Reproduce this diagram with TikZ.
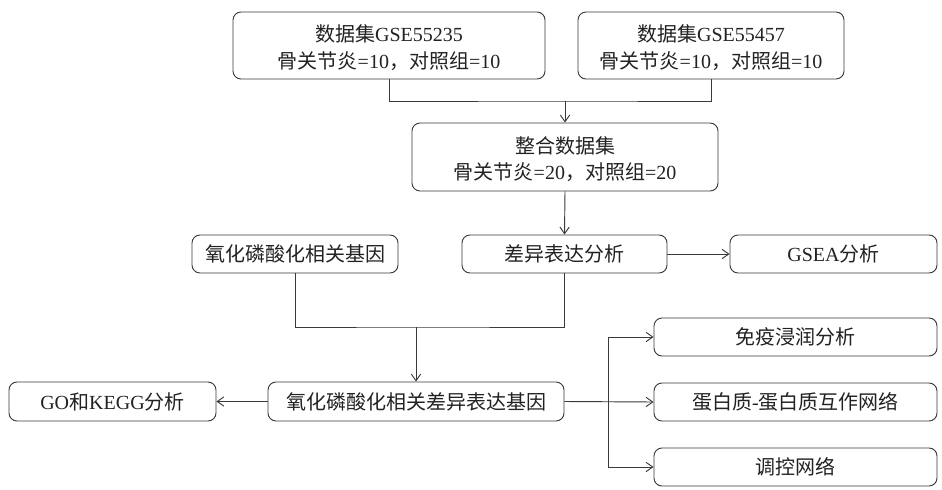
\documentclass[tikz,border=0pt]{standalone}
\usepackage{fontspec}
\setmainfont{Liberation Serif}
\newfontfamily\cjk{Noto Sans CJK SC}
\usetikzlibrary{arrows.meta}
\definecolor{ln}{HTML}{3A3A3A}
\definecolor{tx}{HTML}{222222}
\begin{document}
\begin{tikzpicture}[x=0.75pt,y=-0.75pt,
  box/.style={draw=ln,line width=0.7pt,rounded corners=6pt,align=center,
    inner sep=0pt,text=tx,font=\fontsize{15}{18}\selectfont,minimum height=28.5pt},
  lbl/.style={inner sep=0pt,text=tx,font=\fontsize{15}{18}\selectfont},
  conn/.style={draw=ln,line width=0.7pt},
  arr/.style={conn,-{Straight Barb[length=5pt,width=7pt]}}]
\useasboundingbox (0,0) rectangle (942,489);
\fill[white] (0,0) rectangle (942,489);
\node[box,minimum width=234pt,minimum height=50.25pt] (d1) at (389,45.5) {};
\node[lbl] (d1a) at (389,34) {{\cjk 数据集}GSE55235};
\node[lbl] (d1b) at (389,61) {{\cjk 骨关节炎}=10{\cjk ，对照组}=10};
\node[box,minimum width=199.5pt,minimum height=50.25pt] (d2) at (711,45.5) {};
\node[lbl] (d2a) at (711,34) {{\cjk 数据集}GSE55457};
\node[lbl] (d2b) at (711,61) {{\cjk 骨关节炎}=10{\cjk ，对照组}=10};
\node[box,minimum width=229.5pt,minimum height=51pt] (m) at (565,157) {};
\node[lbl] (ma) at (565,146) {\cjk 整合数据集};
\node[lbl] (mb) at (565,172) {{\cjk 骨关节炎}=20{\cjk ，对照组}=20};
\node[box,minimum width=153.75pt] (deg) at (564.5,254) {\cjk 差异表达分析};
\node[box,minimum width=154.5pt] (ox) at (295,254) {\cjk 氧化磷酸化相关基因};
\node[box,minimum width=155.25pt] (gsea) at (833.5,254) {GSEA{\cjk 分析}};
\node[box,minimum width=222pt,minimum height=29.25pt] (odeg) at (416,401.5) {\cjk 氧化磷酸化相关差异表达基因};
\node[box,minimum width=155.25pt,minimum height=29.25pt] (go) at (112.5,401.5) {GO{\cjk 和}KEGG{\cjk 分析}};
\node[box,minimum width=212.25pt] (imm) at (795.5,337) {\cjk 免疫浸润分析};
\node[box,minimum width=212.25pt] (ppi) at (795.5,402) {{\cjk 蛋白质}-{\cjk 蛋白质互作网络}};
\node[box,minimum width=212.25pt] (reg) at (795.5,467) {\cjk 调控网络};
% merges
\coordinate (j1) at (565,101);
\draw[conn] (d1.south) |- (j1) -| (d2.south);
\draw[arr] (j1) -- (m.north);
\draw[arr] (m.south) -- (deg.north);
\draw[arr] (deg.east) -- (gsea.west);
\coordinate (j2) at (416,327);
\draw[conn] (ox.south) |- (j2) -| (deg.south);
\draw[arr] (j2) -- (odeg.north);
\draw[arr] (odeg.west) -- (go.east);
\coordinate (b) at (608,401.5);
\draw[arr] (odeg.east) -- (ppi.west);
\draw[arr] (b) |- (imm.west);
\draw[arr] (b) |- (reg.west);
\end{tikzpicture}
\end{document}
